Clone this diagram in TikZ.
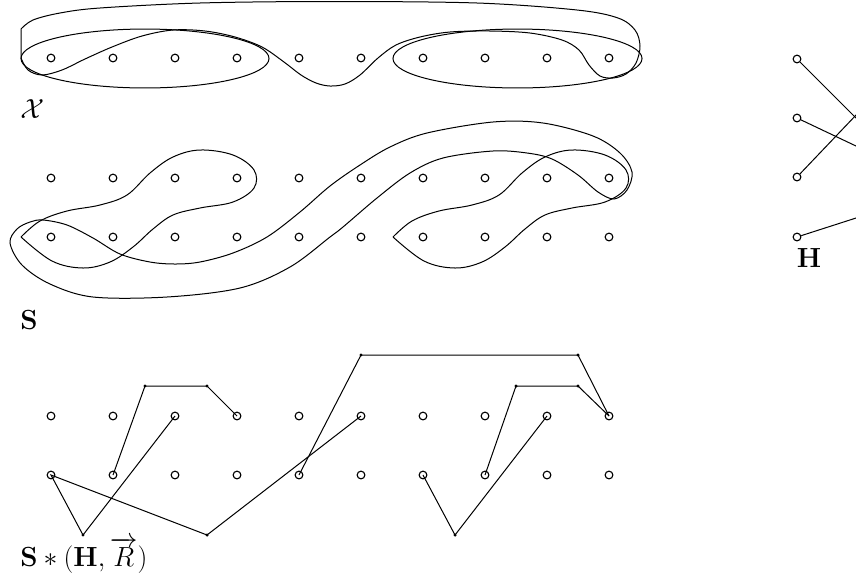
\documentclass[tikz,border=0pt]{standalone}
\usepackage{amsmath,amssymb}
\begin{document}
\begin{tikzpicture}[x=0.75pt,y=-0.75pt,
  gdot/.style={circle,draw,line width=0.85pt,inner sep=0pt,minimum size=5.8pt},
  bdot/.style={circle,fill=black,inner sep=0pt,minimum size=2.6pt},
  curve/.style={line width=0.75pt},
  edge/.style={line width=0.75pt},
  lbl/.style={anchor=west,inner sep=0pt,font=\fontsize{20}{24}\selectfont}]
\clip (0,0) rectangle (856,576);
\fill[white] (0,0) rectangle (856,576);
% ---------- X panel ----------
\foreach \i in {0,...,9} \node[gdot] (x\i) at ({51+62*\i},58) {};
\draw[curve] (145,58.5) ellipse [x radius=93pt, y radius=22.1pt];
\draw[curve] (517.5,58.5) ellipse [x radius=93.4pt, y radius=22.1pt];
\draw[curve] plot[smooth, tension=0.55] coordinates {(21,29) (33,20) (60,13) (100,8) (200,3) (330,1.5) (477,3) (577,10) (618,18) (635,30) (640,46) (636,63) (626,74) (613,78) (600,76) (589,65) (579,50) (562,40) (530,33) (490,31) (450,32) (420,37) (396,45) (378,58) (360,75) (345,84) (330,86) (316,83) (301,75) (284,62) (262,47) (235,37) (205,31) (173,30) (142,36) (112,47) (85,59) (62,70) (42,75) (28,70) (21,58)} -- cycle;
\node[lbl] (lx) at (20,109) {$\mathcal{X}$};
% ---------- S panel ----------
\foreach \i in {0,...,9} {
  \node[gdot] (s\i) at ({51+62*\i},178) {};
  \node[gdot] (t\i) at ({51+62*\i},237) {};
}
\foreach \dx in {0,372}
  \draw[curve,shift={(\dx,0)}] plot[smooth, tension=0.6] coordinates {(21,237) (40,221) (67,211) (100,205) (127,195) (150,173) (173,157) (200,150) (233,155) (254,170) (254,188) (233,202) (200,208) (173,215) (153,229) (133,247) (110,262) (83,268) (52,261) (21,237)};
\draw[curve] plot[smooth cycle, tension=0.55] coordinates {(10,243) (17,229) (30,222) (43,220) (67,225) (93,238) (120,254) (150,262) (175,264) (200,262) (233,253) (267,237) (300,212) (330,186) (360,165) (390,147) (427,133) (493,122) (543,123) (593,136) (620,153) (632,172) (627,190) (614,199) (598,192) (578,175) (552,159) (527,153) (493,151) (443,158) (410,173) (377,198) (343,227) (330,237) (290,267) (240,288) (167,297) (93,297) (50,284) (22,265)};
\node[lbl] (ls) at (20,320) {$\mathbf{S}$};
% ---------- S*(H,R) panel ----------
\foreach \i in {0,...,9} {
  \node[gdot] (u\i) at ({51+62*\i},416) {};
  \node[gdot] (v\i) at ({51+62*\i},475) {};
}
\node[bdot] (b1) at (145,386) {};
\node[bdot] (b2) at (207,386) {};
\node[bdot] (b3) at (83,535) {};
\node[bdot] (b4) at (207,535) {};
\node[bdot] (b5) at (361,355) {};
\node[bdot] (b6) at (578,355) {};
\node[bdot] (b7) at (516,386) {};
\node[bdot] (b8) at (578,386) {};
\node[bdot] (b9) at (455,535) {};
\draw[edge] (v1.center) -- (b1.center) -- (b2.center) -- (u3.center);
\draw[edge] (u2.center) -- (b3.center) -- (v0.center) -- (b4.center) -- (u5.center);
\draw[edge] (v4.center) -- (b5.center) -- (b6.center) -- (u9.center);
\draw[edge] (v7.center) -- (b7.center) -- (b8.center) -- (u9.center);
\draw[edge] (v6.center) -- (b9.center) -- (u8.center);
\node[lbl] (lsr) at (20,555) {$\mathbf{S}*(\mathbf{H},\overrightarrow{R})$};
% ---------- H ----------
\node[gdot] (h1) at (797,59) {};
\node[gdot] (h2) at (797,118) {};
\node[gdot] (h3) at (797,177) {};
\node[gdot] (h4) at (797,237) {};
\coordinate (r1) at (880,142);
\coordinate (r2) at (880,157.4);
\coordinate (r3) at (880,89.9);
\coordinate (r4) at (880,210.3);
\draw[edge] (h1) -- (r1);
\draw[edge] (h2) -- (r2);
\draw[edge] (h3) -- (r3);
\draw[edge] (h4) -- (r4);
\node[inner sep=0pt,font=\fontsize{20}{24}\selectfont] (lh) at (809,258) {$\mathbf{H}$};
\end{tikzpicture}
\end{document}
